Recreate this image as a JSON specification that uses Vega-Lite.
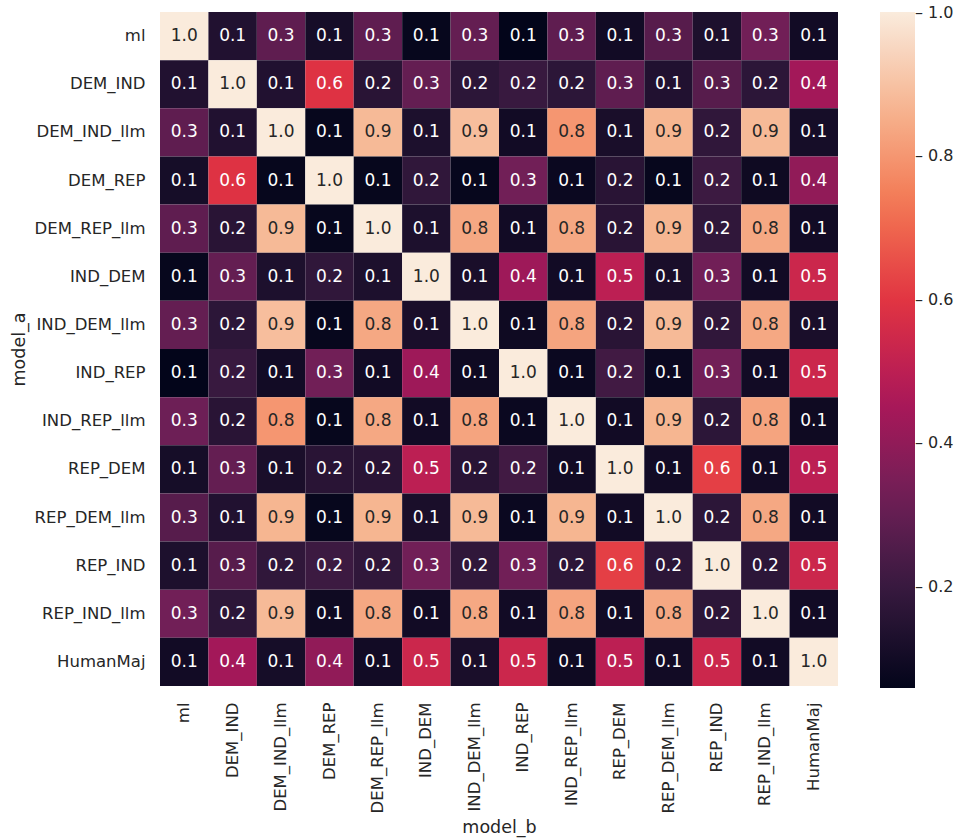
{
  "$schema": "https://vega.github.io/schema/vega-lite/v6.json",
  "width": 678,
  "height": 674,
  "autosize": {"type": "none"},
  "padding": {"left": 160, "top": 12, "right": 119, "bottom": 153},
  "background": "white",
  "config": {
    "view": {"stroke": null},
    "font": "DejaVu Sans",
    "axis": {"labelFont": "DejaVu Sans", "titleFont": "DejaVu Sans", "labelColor": "#262626", "titleColor": "#262626", "titleFontWeight": "normal", "ticks": false, "domain": false, "grid": false},
    "legend": {"labelFont": "DejaVu Sans"}
  },
  "data": {"values": [
    {"a":"ml","b":"ml","v":1.0},{"a":"ml","b":"DEM_IND","v":0.14},{"a":"ml","b":"DEM_IND_llm","v":0.29},{"a":"ml","b":"DEM_REP","v":0.11},{"a":"ml","b":"DEM_REP_llm","v":0.29},{"a":"ml","b":"IND_DEM","v":0.07},{"a":"ml","b":"IND_DEM_llm","v":0.30},{"a":"ml","b":"IND_REP","v":0.06},{"a":"ml","b":"IND_REP_llm","v":0.29},{"a":"ml","b":"REP_DEM","v":0.10},{"a":"ml","b":"REP_DEM_llm","v":0.27},{"a":"ml","b":"REP_IND","v":0.13},{"a":"ml","b":"REP_IND_llm","v":0.33},{"a":"ml","b":"HumanMaj","v":0.10},
    {"a":"DEM_IND","b":"ml","v":0.14},{"a":"DEM_IND","b":"DEM_IND","v":1.0},{"a":"DEM_IND","b":"DEM_IND_llm","v":0.14},{"a":"DEM_IND","b":"DEM_REP","v":0.59},{"a":"DEM_IND","b":"DEM_REP_llm","v":0.16},{"a":"DEM_IND","b":"IND_DEM","v":0.30},{"a":"DEM_IND","b":"IND_DEM_llm","v":0.17},{"a":"DEM_IND","b":"IND_REP","v":0.20},{"a":"DEM_IND","b":"IND_REP_llm","v":0.17},{"a":"DEM_IND","b":"REP_DEM","v":0.29},{"a":"DEM_IND","b":"REP_DEM_llm","v":0.14},{"a":"DEM_IND","b":"REP_IND","v":0.27},{"a":"DEM_IND","b":"REP_IND_llm","v":0.17},{"a":"DEM_IND","b":"HumanMaj","v":0.44},
    {"a":"DEM_IND_llm","b":"ml","v":0.29},{"a":"DEM_IND_llm","b":"DEM_IND","v":0.14},{"a":"DEM_IND_llm","b":"DEM_IND_llm","v":1.0},{"a":"DEM_IND_llm","b":"DEM_REP","v":0.07},{"a":"DEM_IND_llm","b":"DEM_REP_llm","v":0.88},{"a":"DEM_IND_llm","b":"IND_DEM","v":0.13},{"a":"DEM_IND_llm","b":"IND_DEM_llm","v":0.89},{"a":"DEM_IND_llm","b":"IND_REP","v":0.10},{"a":"DEM_IND_llm","b":"IND_REP_llm","v":0.80},{"a":"DEM_IND_llm","b":"REP_DEM","v":0.12},{"a":"DEM_IND_llm","b":"REP_DEM_llm","v":0.87},{"a":"DEM_IND_llm","b":"REP_IND","v":0.18},{"a":"DEM_IND_llm","b":"REP_IND_llm","v":0.88},{"a":"DEM_IND_llm","b":"HumanMaj","v":0.11},
    {"a":"DEM_REP","b":"ml","v":0.11},{"a":"DEM_REP","b":"DEM_IND","v":0.59},{"a":"DEM_REP","b":"DEM_IND_llm","v":0.07},{"a":"DEM_REP","b":"DEM_REP","v":1.0},{"a":"DEM_REP","b":"DEM_REP_llm","v":0.07},{"a":"DEM_REP","b":"IND_DEM","v":0.18},{"a":"DEM_REP","b":"IND_DEM_llm","v":0.07},{"a":"DEM_REP","b":"IND_REP","v":0.33},{"a":"DEM_REP","b":"IND_REP_llm","v":0.08},{"a":"DEM_REP","b":"REP_DEM","v":0.16},{"a":"DEM_REP","b":"REP_DEM_llm","v":0.07},{"a":"DEM_REP","b":"REP_IND","v":0.21},{"a":"DEM_REP","b":"REP_IND_llm","v":0.09},{"a":"DEM_REP","b":"HumanMaj","v":0.40},
    {"a":"DEM_REP_llm","b":"ml","v":0.29},{"a":"DEM_REP_llm","b":"DEM_IND","v":0.16},{"a":"DEM_REP_llm","b":"DEM_IND_llm","v":0.88},{"a":"DEM_REP_llm","b":"DEM_REP","v":0.07},{"a":"DEM_REP_llm","b":"DEM_REP_llm","v":1.0},{"a":"DEM_REP_llm","b":"IND_DEM","v":0.13},{"a":"DEM_REP_llm","b":"IND_DEM_llm","v":0.84},{"a":"DEM_REP_llm","b":"IND_REP","v":0.10},{"a":"DEM_REP_llm","b":"IND_REP_llm","v":0.84},{"a":"DEM_REP_llm","b":"REP_DEM","v":0.16},{"a":"DEM_REP_llm","b":"REP_DEM_llm","v":0.87},{"a":"DEM_REP_llm","b":"REP_IND","v":0.18},{"a":"DEM_REP_llm","b":"REP_IND_llm","v":0.84},{"a":"DEM_REP_llm","b":"HumanMaj","v":0.10},
    {"a":"IND_DEM","b":"ml","v":0.07},{"a":"IND_DEM","b":"DEM_IND","v":0.30},{"a":"IND_DEM","b":"DEM_IND_llm","v":0.13},{"a":"IND_DEM","b":"DEM_REP","v":0.18},{"a":"IND_DEM","b":"DEM_REP_llm","v":0.13},{"a":"IND_DEM","b":"IND_DEM","v":1.0},{"a":"IND_DEM","b":"IND_DEM_llm","v":0.12},{"a":"IND_DEM","b":"IND_REP","v":0.43},{"a":"IND_DEM","b":"IND_REP_llm","v":0.10},{"a":"IND_DEM","b":"REP_DEM","v":0.50},{"a":"IND_DEM","b":"REP_DEM_llm","v":0.12},{"a":"IND_DEM","b":"REP_IND","v":0.33},{"a":"IND_DEM","b":"REP_IND_llm","v":0.10},{"a":"IND_DEM","b":"HumanMaj","v":0.54},
    {"a":"IND_DEM_llm","b":"ml","v":0.30},{"a":"IND_DEM_llm","b":"DEM_IND","v":0.17},{"a":"IND_DEM_llm","b":"DEM_IND_llm","v":0.89},{"a":"IND_DEM_llm","b":"DEM_REP","v":0.07},{"a":"IND_DEM_llm","b":"DEM_REP_llm","v":0.84},{"a":"IND_DEM_llm","b":"IND_DEM","v":0.12},{"a":"IND_DEM_llm","b":"IND_DEM_llm","v":1.0},{"a":"IND_DEM_llm","b":"IND_REP","v":0.09},{"a":"IND_DEM_llm","b":"IND_REP_llm","v":0.83},{"a":"IND_DEM_llm","b":"REP_DEM","v":0.16},{"a":"IND_DEM_llm","b":"REP_DEM_llm","v":0.88},{"a":"IND_DEM_llm","b":"REP_IND","v":0.18},{"a":"IND_DEM_llm","b":"REP_IND_llm","v":0.84},{"a":"IND_DEM_llm","b":"HumanMaj","v":0.12},
    {"a":"IND_REP","b":"ml","v":0.06},{"a":"IND_REP","b":"DEM_IND","v":0.20},{"a":"IND_REP","b":"DEM_IND_llm","v":0.10},{"a":"IND_REP","b":"DEM_REP","v":0.33},{"a":"IND_REP","b":"DEM_REP_llm","v":0.10},{"a":"IND_REP","b":"IND_DEM","v":0.43},{"a":"IND_REP","b":"IND_DEM_llm","v":0.09},{"a":"IND_REP","b":"IND_REP","v":1.0},{"a":"IND_REP","b":"IND_REP_llm","v":0.08},{"a":"IND_REP","b":"REP_DEM","v":0.22},{"a":"IND_REP","b":"REP_DEM_llm","v":0.08},{"a":"IND_REP","b":"REP_IND","v":0.33},{"a":"IND_REP","b":"REP_IND_llm","v":0.10},{"a":"IND_REP","b":"HumanMaj","v":0.54},
    {"a":"IND_REP_llm","b":"ml","v":0.32},{"a":"IND_REP_llm","b":"DEM_IND","v":0.16},{"a":"IND_REP_llm","b":"DEM_IND_llm","v":0.80},{"a":"IND_REP_llm","b":"DEM_REP","v":0.07},{"a":"IND_REP_llm","b":"DEM_REP_llm","v":0.84},{"a":"IND_REP_llm","b":"IND_DEM","v":0.10},{"a":"IND_REP_llm","b":"IND_DEM_llm","v":0.83},{"a":"IND_REP_llm","b":"IND_REP","v":0.08},{"a":"IND_REP_llm","b":"IND_REP_llm","v":1.0},{"a":"IND_REP_llm","b":"REP_DEM","v":0.10},{"a":"IND_REP_llm","b":"REP_DEM_llm","v":0.87},{"a":"IND_REP_llm","b":"REP_IND","v":0.17},{"a":"IND_REP_llm","b":"REP_IND_llm","v":0.83},{"a":"IND_REP_llm","b":"HumanMaj","v":0.09},
    {"a":"REP_DEM","b":"ml","v":0.11},{"a":"REP_DEM","b":"DEM_IND","v":0.30},{"a":"REP_DEM","b":"DEM_IND_llm","v":0.12},{"a":"REP_DEM","b":"DEM_REP","v":0.16},{"a":"REP_DEM","b":"DEM_REP_llm","v":0.16},{"a":"REP_DEM","b":"IND_DEM","v":0.50},{"a":"REP_DEM","b":"IND_DEM_llm","v":0.16},{"a":"REP_DEM","b":"IND_REP","v":0.22},{"a":"REP_DEM","b":"IND_REP_llm","v":0.10},{"a":"REP_DEM","b":"REP_DEM","v":1.0},{"a":"REP_DEM","b":"REP_DEM_llm","v":0.10},{"a":"REP_DEM","b":"REP_IND","v":0.62},{"a":"REP_DEM","b":"REP_IND_llm","v":0.10},{"a":"REP_DEM","b":"HumanMaj","v":0.50},
    {"a":"REP_DEM_llm","b":"ml","v":0.27},{"a":"REP_DEM_llm","b":"DEM_IND","v":0.14},{"a":"REP_DEM_llm","b":"DEM_IND_llm","v":0.87},{"a":"REP_DEM_llm","b":"DEM_REP","v":0.07},{"a":"REP_DEM_llm","b":"DEM_REP_llm","v":0.87},{"a":"REP_DEM_llm","b":"IND_DEM","v":0.12},{"a":"REP_DEM_llm","b":"IND_DEM_llm","v":0.88},{"a":"REP_DEM_llm","b":"IND_REP","v":0.08},{"a":"REP_DEM_llm","b":"IND_REP_llm","v":0.87},{"a":"REP_DEM_llm","b":"REP_DEM","v":0.10},{"a":"REP_DEM_llm","b":"REP_DEM_llm","v":1.0},{"a":"REP_DEM_llm","b":"REP_IND","v":0.17},{"a":"REP_DEM_llm","b":"REP_IND_llm","v":0.84},{"a":"REP_DEM_llm","b":"HumanMaj","v":0.10},
    {"a":"REP_IND","b":"ml","v":0.13},{"a":"REP_IND","b":"DEM_IND","v":0.27},{"a":"REP_IND","b":"DEM_IND_llm","v":0.18},{"a":"REP_IND","b":"DEM_REP","v":0.21},{"a":"REP_IND","b":"DEM_REP_llm","v":0.18},{"a":"REP_IND","b":"IND_DEM","v":0.33},{"a":"REP_IND","b":"IND_DEM_llm","v":0.18},{"a":"REP_IND","b":"IND_REP","v":0.33},{"a":"REP_IND","b":"IND_REP_llm","v":0.17},{"a":"REP_IND","b":"REP_DEM","v":0.62},{"a":"REP_IND","b":"REP_DEM_llm","v":0.17},{"a":"REP_IND","b":"REP_IND","v":1.0},{"a":"REP_IND","b":"REP_IND_llm","v":0.17},{"a":"REP_IND","b":"HumanMaj","v":0.54},
    {"a":"REP_IND_llm","b":"ml","v":0.33},{"a":"REP_IND_llm","b":"DEM_IND","v":0.17},{"a":"REP_IND_llm","b":"DEM_IND_llm","v":0.88},{"a":"REP_IND_llm","b":"DEM_REP","v":0.09},{"a":"REP_IND_llm","b":"DEM_REP_llm","v":0.84},{"a":"REP_IND_llm","b":"IND_DEM","v":0.10},{"a":"REP_IND_llm","b":"IND_DEM_llm","v":0.84},{"a":"REP_IND_llm","b":"IND_REP","v":0.10},{"a":"REP_IND_llm","b":"IND_REP_llm","v":0.83},{"a":"REP_IND_llm","b":"REP_DEM","v":0.10},{"a":"REP_IND_llm","b":"REP_DEM_llm","v":0.84},{"a":"REP_IND_llm","b":"REP_IND","v":0.17},{"a":"REP_IND_llm","b":"REP_IND_llm","v":1.0},{"a":"REP_IND_llm","b":"HumanMaj","v":0.10},
    {"a":"HumanMaj","b":"ml","v":0.10},{"a":"HumanMaj","b":"DEM_IND","v":0.44},{"a":"HumanMaj","b":"DEM_IND_llm","v":0.11},{"a":"HumanMaj","b":"DEM_REP","v":0.40},{"a":"HumanMaj","b":"DEM_REP_llm","v":0.10},{"a":"HumanMaj","b":"IND_DEM","v":0.54},{"a":"HumanMaj","b":"IND_DEM_llm","v":0.12},{"a":"HumanMaj","b":"IND_REP","v":0.54},{"a":"HumanMaj","b":"IND_REP_llm","v":0.09},{"a":"HumanMaj","b":"REP_DEM","v":0.50},{"a":"HumanMaj","b":"REP_DEM_llm","v":0.10},{"a":"HumanMaj","b":"REP_IND","v":0.54},{"a":"HumanMaj","b":"REP_IND_llm","v":0.10},{"a":"HumanMaj","b":"HumanMaj","v":1.0}
  ]},
  "encoding": {
    "x": {"field": "b", "type": "nominal", "title": "model_b",
      "sort": ["ml","DEM_IND","DEM_IND_llm","DEM_REP","DEM_REP_llm","IND_DEM","IND_DEM_llm","IND_REP","IND_REP_llm","REP_DEM","REP_DEM_llm","REP_IND","REP_IND_llm","HumanMaj"],
      "scale": {"paddingInner": 0, "paddingOuter": 0},
      "axis": {"labelAngle": -90, "labelFontSize": 16.5, "labelPadding": 16, "titleFontSize": 17.5, "titlePadding": 6}},
    "y": {"field": "a", "type": "nominal", "title": "model_a",
      "sort": ["ml","DEM_IND","DEM_IND_llm","DEM_REP","DEM_REP_llm","IND_DEM","IND_DEM_llm","IND_REP","IND_REP_llm","REP_DEM","REP_DEM_llm","REP_IND","REP_IND_llm","HumanMaj"],
      "scale": {"paddingInner": 0, "paddingOuter": 0},
      "axis": {"labelFontSize": 16.5, "labelPadding": 15, "titleFontSize": 17.5, "titlePadding": 6}}
  },
  "layer": [
    {"mark": {"type": "rect", "strokeWidth": 0},
     "encoding": {"color": {"field": "v", "type": "quantitative",
       "scale": {"domain": [0.059, 0.1934, 0.3279, 0.4624, 0.5969, 0.7313, 0.8657, 1.001],
                 "range": ["#03051a", "#35193e", "#701f57", "#ad1759", "#e13342", "#f37651", "#f6b48f", "#faebdd"],
                 "interpolate": "rgb"},
       "legend": {"title": null, "values": [0.2, 0.4, 0.6, 0.8, 1.0], "format": ".1f", "direction": "vertical",
                  "gradientLength": 676, "gradientThickness": 35, "gradientStrokeWidth": 0,
                  "labelFontSize": 16, "labelColor": "#262626", "labelOffset": 0, "labelBaseline": "middle",
                  "labelExpr": "'– ' + datum.label", "offset": 42, "padding": 0, "labelOverlap": false}}}},
    {"mark": {"type": "text", "fontSize": 17, "font": "DejaVu Sans"},
     "encoding": {"text": {"field": "v", "type": "quantitative", "format": ".1f"},
       "color": {"condition": {"test": "datum.v > 0.7", "value": "#262626"}, "value": "#ffffff"}}}
  ]
}
